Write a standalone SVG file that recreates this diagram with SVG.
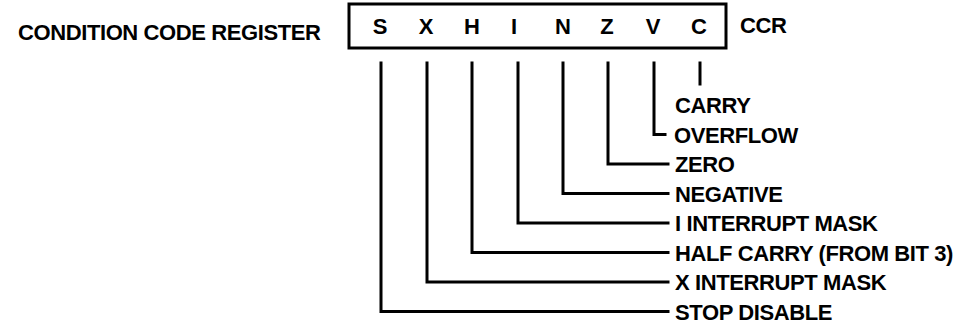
<svg xmlns="http://www.w3.org/2000/svg" width="964" height="329" viewBox="0 0 964 329">
<style>
  text { font-family: "Liberation Sans", Arial, sans-serif; font-weight: bold; font-size: 22px; letter-spacing: -0.4px; fill: #000; }
  .bit { text-anchor: middle; letter-spacing: 0; }
  .ln { fill: none; stroke: #000; stroke-width: 3; stroke-linecap: square; stroke-linejoin: miter; }
</style>
<rect width="964" height="329" fill="#fff"/>
<g id="title"><text x="18" y="40">CONDITION CODE REGISTER</text></g>
<g id="register">
  <rect class="ln" x="349" y="4" width="377" height="44"/>
  <text class="bit" x="380" y="34">S</text>
  <text class="bit" x="426" y="34">X</text>
  <text class="bit" x="472" y="34">H</text>
  <text class="bit" x="514" y="34">I</text>
  <text class="bit" x="563" y="34">N</text>
  <text class="bit" x="607" y="34">Z</text>
  <text class="bit" x="653" y="34">V</text>
  <text class="bit" x="699" y="34">C</text>
</g>
<g id="ccr"><text x="740" y="33">CCR</text></g>
<g id="connectors">
  <path class="ln" d="M700 63 V84"/>
  <path class="ln" d="M654 63 V134.5 H665"/>
  <path class="ln" d="M608 63 V164 H668"/>
  <path class="ln" d="M563 63 V193.5 H668"/>
  <path class="ln" d="M518 63 V223 H668"/>
  <path class="ln" d="M472 63 V252.5 H668"/>
  <path class="ln" d="M427 63 V282 H668"/>
  <path class="ln" d="M381 63 V311.5 H668"/>
</g>
<g id="labels">
  <g id="carry"><text x="675" y="113">CARRY</text></g>
  <g id="overflow"><text x="674" y="142.5">OVERFLOW</text></g>
  <g id="zero"><text x="675" y="172">ZERO</text></g>
  <g id="negative"><text x="675" y="201.5">NEGATIVE</text></g>
  <g id="i-mask"><text x="675" y="231">I INTERRUPT MASK</text></g>
  <g id="half-carry"><text x="675" y="260.5">HALF CARRY (FROM BIT 3)</text></g>
  <g id="x-mask"><text x="675" y="290">X INTERRUPT MASK</text></g>
  <g id="stop-disable"><text x="675" y="319.5">STOP DISABLE</text></g>
</g>
</svg>
